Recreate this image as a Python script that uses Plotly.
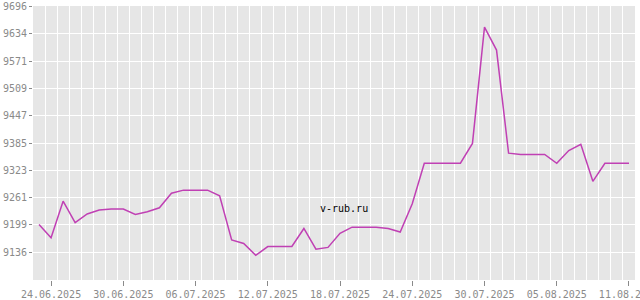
import pandas as pd
import plotly.graph_objects as go

start_date = "2025-06-23"
values = [9200, 9170, 9253, 9204, 9224, 9233, 9235, 9235, 9223, 9229,
          9238, 9271, 9278, 9278, 9278, 9265, 9165, 9157, 9130, 9150,
          9150, 9150, 9191, 9144, 9148, 9180, 9194, 9194, 9194, 9191,
          9183, 9247, 9339, 9339, 9339, 9339, 9384, 9648, 9596, 9362,
          9359, 9359, 9359, 9339, 9368, 9382, 9298, 9339, 9339, 9339]
dates = pd.date_range(start_date, periods=len(values), freq="D")

x_tick_dates = ["2025-06-24", "2025-06-30", "2025-07-06", "2025-07-12", "2025-07-18",
                "2025-07-24", "2025-07-30", "2025-08-05", "2025-08-11"]
x_tick_text = ["24.06.2025", "30.06.2025", "06.07.2025", "12.07.2025", "18.07.2025",
               "24.07.2025", "30.07.2025", "05.08.2025", "11.08.2025"]
y_ticks = [9136, 9199, 9261, 9323, 9385, 9447, 9509, 9571, 9634, 9696]
y_min = 9074

font_family = "DejaVu Sans Mono"
gray = "#8a8a8a"

fig = go.Figure()
fig.add_trace(go.Scatter(x=dates, y=values, mode="lines",
                         line=dict(color="#c040b4", width=1.5),
                         hoverinfo="skip"))

x_lo = dates[0] - pd.Timedelta(hours=12)
x_hi = dates[-1] + pd.Timedelta(hours=12)

fig.update_layout(
    width=640, height=300,
    margin=dict(l=33, r=5, t=6, b=20, pad=0),
    paper_bgcolor="white",
    plot_bgcolor="#e6e6e6",
    showlegend=False,
    font=dict(family=font_family, size=10, color=gray),
    xaxis=dict(
        type="date",
        automargin=False,
        ticklabeloverflow="allow",
        range=[x_lo, x_hi],
        tickmode="array",
        tickvals=x_tick_dates,
        ticktext=x_tick_text,
        ticks="outside", ticklen=5, tickcolor=gray, tickwidth=1,
        showgrid=False, zeroline=False, showline=False,
        tickfont=dict(family=font_family, size=10, color=gray),
        minor=dict(dtick=86400000, tick0=x_lo, showgrid=True,
                   gridcolor="white", gridwidth=1, ticks=""),
    ),
    yaxis=dict(
        automargin=False,
        range=[y_min, y_ticks[-1]],
        tickmode="array",
        tickvals=y_ticks,
        ticktext=[str(v) for v in y_ticks],
        ticks="outside", ticklen=3, tickcolor=gray, tickwidth=1,
        showgrid=True, gridcolor="white", gridwidth=1,
        zeroline=False, showline=False,
        tickfont=dict(family=font_family, size=10, color=gray),
    ),
    annotations=[dict(text="v-rub.ru", xref="paper", yref="paper",
                      x=0.516, y=0.262, xanchor="center", yanchor="middle",
                      showarrow=False,
                      font=dict(family=font_family, size=10, color="black"))],
)

fig.write_html("out.html")
